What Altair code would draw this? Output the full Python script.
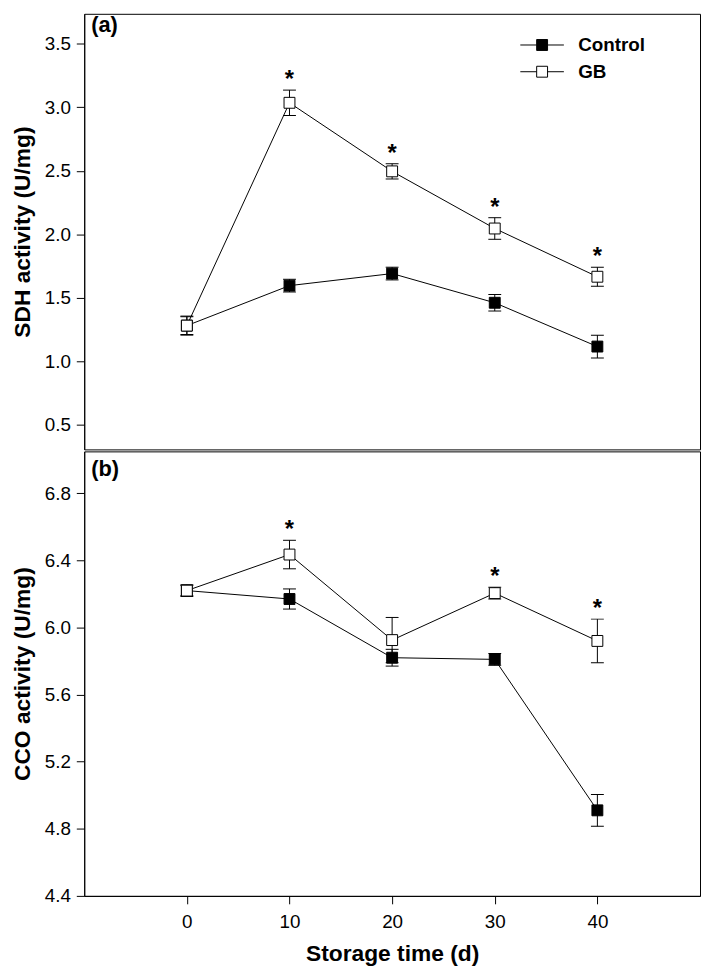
import altair as alt
import pandas as pd

# ---- data ----
days = [0, 10, 20, 30, 40]
series_names = ["Control", "GB"]

# (a) SDH activity (U/mg)
sdh_control = [1.28, 1.595, 1.69, 1.46, 1.115]
sdh_control_err = [0.07, 0.05, 0.05, 0.065, 0.09]
sdh_gb = [1.28, 3.035, 2.495, 2.045, 1.665]
sdh_gb_err = [0.075, 0.10, 0.06, 0.085, 0.075]
sdh_sig = [False, True, True, True, True]

# (b) CCO activity (U/mg)
cco_control = [6.22, 6.17, 5.82, 5.81, 4.91]
cco_control_err = [0.03, 0.06, 0.05, 0.035, 0.095]
cco_gb = [6.22, 6.435, 5.925, 6.205, 5.92]
cco_gb_err = [0.035, 0.085, 0.135, 0.035, 0.13]
cco_sig = [False, True, False, True, True]

sdh_ticks = [0.5, 1.0, 1.5, 2.0, 2.5, 3.0, 3.5]
cco_ticks = [4.4, 4.8, 5.2, 5.6, 6.0, 6.4, 6.8]

FONT = "Liberation Sans"


def make_df(ctrl, ctrl_err, gb, gb_err, sig):
    rows = []
    for k, (name, vals, errs) in enumerate(
        (("Control", ctrl, ctrl_err), ("GB", gb, gb_err))
    ):
        for i, d in enumerate(days):
            rows.append(
                dict(
                    series=name,
                    k=k,
                    day=d,
                    value=vals[i],
                    lo=vals[i] - errs[i],
                    hi=vals[i] + errs[i],
                    sig=bool(name == "GB" and sig[i]),
                )
            )
    return pd.DataFrame(rows)


def panel(df, ytitle, ydomain, yticks, height, show_x, label, label_y, show_legend):
    xscale = alt.Scale(domain=[-10, 50], nice=False, zero=False)
    if show_x:
        xaxis = alt.Axis(
            values=days,
            format="d",
            title="Storage time (d)",
            labelPadding=9,
            titlePadding=11,
        )
    else:
        xaxis = None
    yscale = alt.Scale(domain=ydomain, nice=False, zero=False)
    yaxis = alt.Axis(values=yticks, format=".1f", title=ytitle, labelPadding=6, titlePadding=10)

    def X():
        return alt.X("day:Q", scale=xscale, axis=xaxis)

    def Y(field):
        return alt.Y(field, scale=yscale, axis=yaxis, title=ytitle)

    base = alt.Chart(df)

    lines = base.mark_line(color="black", strokeWidth=1).encode(
        x=X(), y=Y("value:Q"), detail="series:N", order="day:Q"
    )
    rules = base.mark_rule(color="black", strokeWidth=1).encode(
        x=X(), y=Y("lo:Q"), y2="hi:Q"
    )
    cap_lo = base.mark_tick(
        orient="horizontal", size=13, thickness=1, color="black", opacity=1
    ).encode(x=X(), y=Y("lo:Q"))
    cap_hi = base.mark_tick(
        orient="horizontal", size=13, thickness=1, color="black", opacity=1
    ).encode(x=X(), y=Y("hi:Q"))

    if show_legend:
        legend = alt.Legend(
            title=None,
            orient="none",
            legendX=453,
            legendY=22,
            padding=0,
            symbolType="M-4,0H-1M1,0H4M-1,-1H1V1H-1Z",
            symbolSize=121,
            symbolStrokeColor="black",
            symbolStrokeWidth=1,
            symbolOpacity=1,
            labelFont=FONT,
            labelFontSize=19,
            labelFontWeight="bold",
            labelColor="black",
            labelOffset=27,
            rowPadding=7,
        )
    else:
        legend = None

    points = base.mark_point(
        shape="square", filled=True, size=121, stroke="black", strokeWidth=1, opacity=1
    ).encode(
        x=X(),
        y=Y("value:Q"),
        fill=alt.Fill(
            "series:N",
            scale=alt.Scale(domain=series_names, range=["black", "white"]),
            legend=legend,
        ),
        order="k:Q",
    )

    stars = (
        base.transform_filter("datum.sig")
        .mark_text(
            text="*",
            font=FONT,
            fontSize=24,
            fontWeight="bold",
            color="black",
            baseline="alphabetic",
            dy=-3,
        )
        .encode(x=X(), y=Y("hi:Q"))
    )

    tag = (
        alt.Chart(pd.DataFrame({"label": [label]}))
        .mark_text(
            font=FONT,
            fontSize=22,
            fontWeight="bold",
            color="black",
            align="left",
            baseline="alphabetic",
        )
        .encode(x=alt.value(7), y=alt.value(label_y), text="label:N")
    )

    return alt.layer(lines, rules, cap_lo, cap_hi, points, stars, tag).properties(
        width=622, height=height
    )


df_a = make_df(sdh_control, sdh_control_err, sdh_gb, sdh_gb_err, sdh_sig)
df_b = make_df(cco_control, cco_control_err, cco_gb, cco_gb_err, cco_sig)

top = panel(df_a, "SDH activity (U/mg)", [0.305, 3.736], sdh_ticks, 440, False, "(a)", 18, True)
bottom = panel(df_b, "CCO activity (U/mg)", [4.4, 7.05], cco_ticks, 449, True, "(b)", 25, False)

chart = (
    alt.vconcat(top, bottom, spacing=0)
    .resolve_scale(fill="independent")
    .resolve_legend(fill="independent")
    .configure_view(stroke="black", strokeWidth=1)
    .configure_axis(
        labelFont=FONT,
        titleFont=FONT,
        labelFontSize=19,
        titleFontSize=23,
        titleFontWeight="bold",
        labelColor="black",
        titleColor="black",
        tickColor="black",
        domainColor="black",
        tickSize=8,
        tickWidth=1,
        domainWidth=1,
        grid=False,
    )
    .properties(background="white", padding={"left": 3, "top": 0, "right": 0, "bottom": 0})
)

chart.save("out.html", embed_options={"renderer": "svg", "actions": False})
